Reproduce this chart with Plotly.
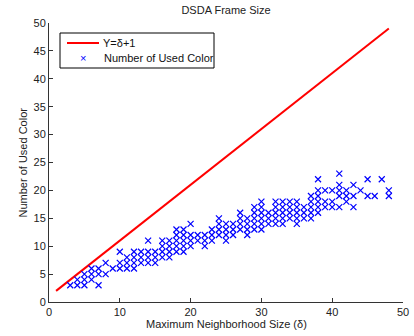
import plotly.graph_objects as go

line_x = [1, 48]
line_y = [2, 49]

scatter_groups = {
    3: [3],
    4: [3, 4],
    5: [3, 4, 5],
    6: [4, 5, 6],
    7: [3, 5, 6],
    8: [5, 7],
    9: [6],
    10: [6, 7, 9],
    11: [6, 7, 8],
    12: [6, 7, 8, 9],
    13: [7, 8, 9],
    14: [7, 8, 9, 11],
    15: [7, 8, 9],
    16: [8, 9, 10, 11],
    17: [8, 9, 10, 11],
    18: [9, 10, 11, 12, 13],
    19: [9, 10, 11, 12, 13],
    20: [10, 11, 12, 14],
    21: [11, 12],
    22: [10, 11, 12],
    23: [11, 12, 13],
    24: [12, 13, 14, 15],
    25: [11, 12, 13, 14],
    26: [12, 13, 14],
    27: [13, 14, 15, 16],
    28: [12, 13, 14, 15],
    29: [13, 14, 15, 16, 17],
    30: [13, 14, 15, 16, 17, 18],
    31: [14, 15, 16],
    32: [14, 15, 16, 17, 18],
    33: [14, 15, 16, 17, 18],
    34: [15, 16, 17, 18],
    35: [14, 15, 16, 17, 18],
    36: [15, 16, 17],
    37: [15, 16, 17, 18, 19],
    38: [16, 17, 18, 19, 20, 22],
    39: [17, 18, 20],
    40: [17, 18, 20],
    41: [17, 19, 20, 21, 23],
    42: [18, 19, 20],
    43: [17, 19, 21],
    44: [20],
    45: [19, 22],
    46: [19],
    47: [22],
    48: [19, 20],
}

sx = []
sy = []
for k, vals in scatter_groups.items():
    for v in vals:
        sx.append(k)
        sy.append(v)

x_ticks = [0, 10, 20, 30, 40, 50]
y_ticks = [0, 5, 10, 15, 20, 25, 30, 35, 40, 45, 50]
legend_names = ["Y=δ+1", "Number of Used Color"]

font = "Liberation Sans, Arial, sans-serif"

# plot area in pixels
L, R, T, B = 49, 403, 23, 302
def px(x):
    return (x - L) / (R - L)
def py(y):
    return (B - y) / (B - T)

fig = go.Figure()
fig.add_trace(go.Scatter(x=line_x, y=line_y, mode="lines", name=legend_names[0],
                         line=dict(color="#ff0000", width=2), showlegend=False))
fig.add_trace(go.Scatter(x=sx, y=sy, mode="markers", name=legend_names[1], showlegend=False,
                         marker=dict(symbol="x-thin", size=6, color="#0000ff",
                                     line=dict(color="#0000ff", width=1.2))))

axis_common = dict(showgrid=False, zeroline=False, showline=True, linecolor="#333333",
                   linewidth=1, ticks="inside", ticklen=4, tickcolor="#333333",
                   tickfont=dict(size=11, color="#222222", family=font), mirror=False,
                   automargin=False)

shapes = [
    dict(type="rect", xref="paper", yref="paper", x0=px(60), x1=px(214), y0=py(68), y1=py(33),
         line=dict(color="black", width=1), fillcolor="white", layer="above"),
    dict(type="line", xref="paper", yref="paper", x0=px(67), x1=px(99), y0=py(43), y1=py(43),
         line=dict(color="#ff0000", width=2), layer="above"),
]
annotations = [
    dict(text=legend_names[0], xref="paper", yref="paper", x=px(101), y=py(43),
         xanchor="left", yanchor="middle", showarrow=False,
         font=dict(size=11, family=font, color="#111111")),
    dict(text=legend_names[1], xref="paper", yref="paper", x=px(102), y=py(58),
         xanchor="left", yanchor="middle", showarrow=False,
         font=dict(size=11, family=font, color="#111111")),
    dict(text="×", xref="paper", yref="paper", x=px(83), y=py(58),
         xanchor="center", yanchor="middle", showarrow=False,
         font=dict(size=11, family=font, color="#0000ff")),
    dict(text="Number of Used Color", xref="paper", yref="paper", x=px(22), y=0.5,
         xanchor="center", yanchor="middle", showarrow=False, textangle=-90,
         font=dict(size=11, family=font, color="#222222")),
    dict(text="Maximum Neighborhood Size (δ)", xref="paper", yref="paper", x=px(226), y=py(324),
         xanchor="center", yanchor="middle", showarrow=False,
         font=dict(size=11, family=font, color="#222222")),
]

fig.update_layout(
    width=414, height=336,
    margin=dict(l=L, r=414 - R, t=T, b=336 - B),
    paper_bgcolor="white", plot_bgcolor="white",
    font=dict(family=font, size=11, color="#222222"),
    title=dict(text="DSDA Frame Size", x=0.546, xanchor="center", y=0.97, yanchor="middle",
               font=dict(size=11, family=font, color="#222222")),
    showlegend=False,
    shapes=shapes,
    annotations=annotations,
    xaxis=dict(range=[0, 50], tickvals=x_ticks, **axis_common),
    yaxis=dict(range=[0, 50], tickvals=y_ticks, **axis_common),
)

fig.write_html("out.html")
